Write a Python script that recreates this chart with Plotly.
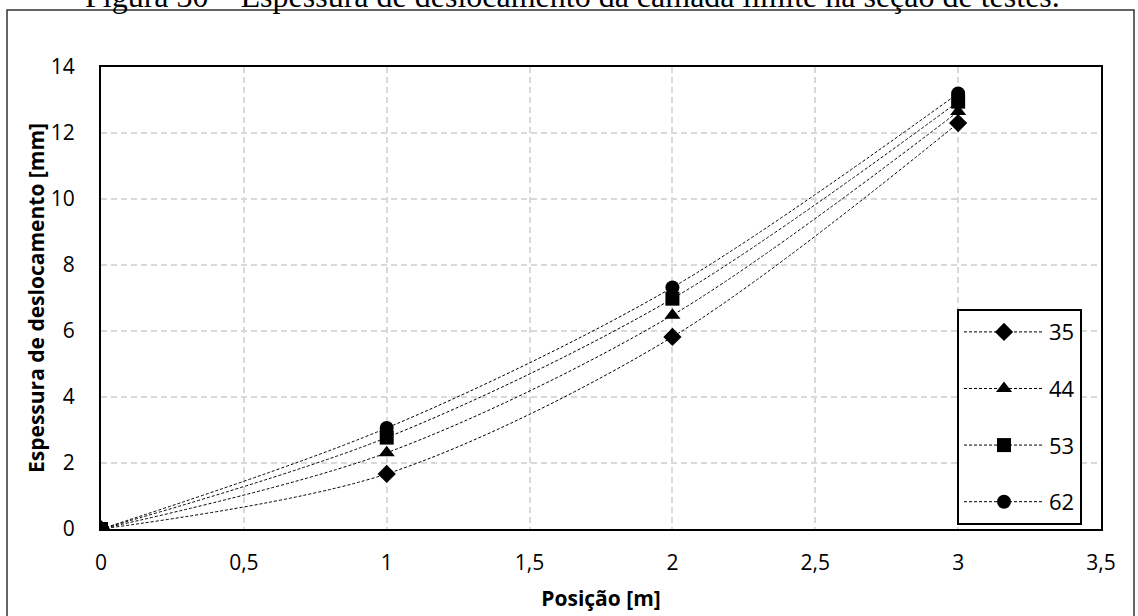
import plotly.graph_objects as go

positions = [0, 1, 2, 3]
series_names = ["35", "44", "53", "62"]
s35 = [0, 1.67, 5.82, 12.30]
s44 = [0, 2.31, 6.48, 12.65]
s53 = [0, 2.77, 6.98, 12.95]
s62 = [0, 3.06, 7.32, 13.20]
symbols = ["diamond", "triangle-up", "square", "circle"]

x_ticks = [0, 0.5, 1, 1.5, 2, 2.5, 3, 3.5]
y_ticks = [0, 2, 4, 6, 8, 10, 12, 14]

title_text = "Figura 30 – Espessura de deslocamento da camada limite na seção de testes."
x_title = "Posição [m]"
y_title = "Espessura de deslocamento [mm]"

font_fam = "Open Sans, Lato, sans-serif"

fig = go.Figure()
for name, vals, sym in zip(series_names, [s35, s44, s53, s62], symbols):
    fig.add_trace(go.Scatter(
        x=positions, y=vals, name=name, mode="lines+markers",
        line=dict(color="black", width=1, dash="3px,2px", shape="spline", smoothing=0.9),
        marker=dict(symbol=sym, size=14, color="black"),
        legendgroup=name,
    ))

fig.update_layout(
    width=1138, height=616,
    margin=dict(l=101, r=37, t=67, b=87),
    paper_bgcolor="white", plot_bgcolor="white",
    separators=",.",
    font=dict(family=font_fam, size=21, color="black"),
    showlegend=True,
    legend=dict(
        x=0.856, y=0.476, xanchor="left", yanchor="top",
        bgcolor="white", bordercolor="black", borderwidth=2,
        font=dict(family=font_fam, size=22, color="black"),
        tracegroupgap=25, itemwidth=80,
    ),
    xaxis=dict(
        range=[0, 3.5], tickvals=x_ticks, tickformat=".1~f", automargin=False,
        showgrid=True, gridcolor="#d9d9d9", griddash="6px,4px", gridwidth=1.5,
        showline=True, linecolor="black", linewidth=2, mirror=True,
        zeroline=False, ticks="", ticklabelstandoff=14,
        title=dict(text="<b>" + x_title + "</b>", standoff=16, font=dict(family=font_fam, size=21)),
    ),
    yaxis=dict(
        range=[0, 14], tickvals=y_ticks, automargin=False,
        showgrid=True, gridcolor="#d9d9d9", griddash="6px,4px", gridwidth=1.5,
        showline=True, linecolor="black", linewidth=2, mirror=True,
        zeroline=False, ticks="", ticklabelstandoff=20,
        title=dict(text="<b>" + y_title + "</b>", standoff=0, font=dict(family=font_fam, size=21)),
    ),
    shapes=[dict(
        type="rect", xref="paper", yref="paper",
        x0=-0.094, x1=1.033, y0=-0.25, y1=(529 - 10) / 462,
        line=dict(color="#333", width=1.5), fillcolor="rgba(0,0,0,0)", layer="below",
    )],
    annotations=[dict(
        text=title_text, xref="paper", yref="paper", x=0.471, y=(529 + 4) / 462,
        xanchor="center", yanchor="middle", showarrow=False,
        font=dict(family="Liberation Serif, Times New Roman, serif", size=32, color="black"),
    )],
)

fig.write_html("out.html")
